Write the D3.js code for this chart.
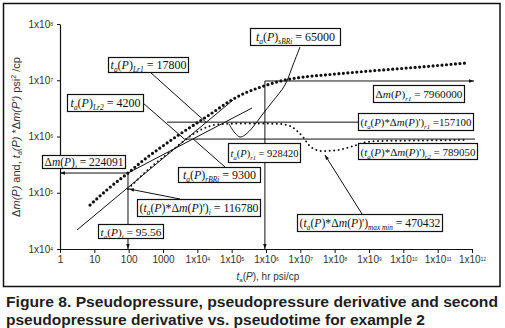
<!DOCTYPE html>
<html>
<head>
<meta charset="utf-8">
<script src="https://cdn.jsdelivr.net/npm/d3@7"></script>
<style>
  body { margin: 0; background: #fff; }
  svg { display: block; }
</style>
</head>
<body>
<div id="chart"></div>
<script>
// axis ticks
var xTickVals = [1, 10, 100, 1000, 1e4, 1e5, 1e6, 1e7, 1e8, 1e9, 1e10, 1e11, 1e12];
var yTickVals = [1e4, 1e5, 1e6, 1e7, 1e8];

// pseudopressure drop  (big dots)
var tDm = [7.5, 25, 95.56, 300, 820, 3130, 12000, 32700, 89400, 244000, 585000, 1.31e6, 3.57e6, 9.8e6, 7.3e7, 1.07e9, 3.06e10, 7.2e11];
var dm  = [60500, 116700, 224091, 398000, 625000, 1.107e6, 1.887e6, 2.84e6, 4.28e6, 5.93e6, 7.28e6, 8.58e6, 1.01e7, 1.12e7, 1.265e7, 1.46e7, 1.72e7, 2.03e7];

// pseudopressure derivative (small dots)
var tDer = [95.56, 418, 2240, 8550, 23400, 52300, 175000, 669000, 2.56e6, 5.0e6, 8.0e6, 1.2e7, 1.67e7, 2.5e7, 4.28e7, 1.02e8, 2.8e8, 7.65e8, 2.09e9, 3.06e10, 6.26e11];
var der  = [116780, 275400, 625000, 1.154e6, 1.537e6, 1.668e6, 1.70e6, 1.70e6, 1.668e6, 1.537e6, 1.253e6, 9.8e5, 7.36e5, 6.0e5, 5.52e5, 5.64e5, 6.5e5, 7.82e5, 8.32e5, 8.49e5, 8.66e5];

// straight lines
var tL1 = [3.13, 109400], vL1 = [21770, 4.45e6];
var tL2 = [95.56, 391000], vL2 = [224091, 3.21e6];

// characteristic points
var taI = 95.56, dmI = 224091, taR1 = 928420;
var dmR1Level = 9.7e6, derR1Level = 1.8e6, derR2Level = 9.0e5;
var taLr1 = 17800, taLr2 = 4200, taRBRi = 9300;
var tMaxMin = 5.2e7, derMaxMin = 470432;

// curved leader of t_a(P)sBRi
var tSB = [9.77e6, 6.11e6, 3.57e6, 1.6e6, 7.65e5, 4.18e5, 2.44e5, 1.75e5, 1.25e5, 83600];
var vSB = [3.9e7, 1.87e7, 8.24e6, 4.28e6, 2.41e6, 1.476e6, 1.064e6, 9.8e5, 1.154e6, 1.668e6];

var W = 505, H = 328;
var svg = d3.select("#chart").append("svg").attr("width", W).attr("height", H);

var defs = svg.append("defs");
defs.append("marker").attr("id", "arr")
    .attr("viewBox", "0 0 10 10").attr("refX", 10).attr("refY", 5)
    .attr("markerWidth", 5).attr("markerHeight", 5)
    .attr("markerUnits", "userSpaceOnUse").attr("orient", "auto")
    .append("path").attr("d", "M0,1.5 L10,5 L0,8.5 z").attr("fill", "#111");

// frame
svg.append("rect").attr("x", 3.5).attr("y", 3.5).attr("width", 496.5).attr("height", 283)
    .attr("fill", "none").attr("stroke", "#111").attr("stroke-width", 1.5);

var x = d3.scaleLog().domain([1, 1e12]).range([60, 472]);
var y = d3.scaleLog().domain([1e4, 1e8]).range([249, 24]);

var tickCol = "#3a3026";
function tickLabel(v) {
    var t = d3.select(this), e = Math.round(Math.log10(v));
    t.text(null);
    if (e < 4) { t.text(String(v)); return; }
    t.append("tspan").text("1x10");
    t.append("tspan").attr("dy", -2).style("font-size", "5px").text(e);
}

var gx = svg.append("g").attr("transform", "translate(0,249)")
    .call(d3.axisBottom(x).tickValues(xTickVals).tickSize(4).tickSizeOuter(0).tickPadding(3));
var gy = svg.append("g").attr("transform", "translate(60,0)")
    .call(d3.axisLeft(y).tickValues(yTickVals).tickSize(3).tickSizeOuter(0).tickPadding(4));
[gx, gy].forEach(function(g) {
    g.selectAll(".domain, .tick line").attr("stroke", "#111");
    g.selectAll(".tick text").attr("fill", tickCol)
        .style("font-family", "'Liberation Sans', Arial, sans-serif").style("font-size", "10px")
        .each(tickLabel);
});
gx.select(".domain").attr("stroke-width", 1.2);
gy.select(".domain").attr("stroke-width", 1.2);

// axis titles
var xl = svg.append("text").attr("x", 268).attr("y", 280).attr("text-anchor", "middle")
    .attr("fill", "#333").style("font-family", "'Liberation Sans', Arial, sans-serif").style("font-size", "10px");
xl.append("tspan").style("font-style", "italic").text("t");
xl.append("tspan").attr("dy", 2).style("font-size", "6px").text("a");
xl.append("tspan").attr("dy", -2).text("(");
xl.append("tspan").style("font-style", "italic").text("P");
xl.append("tspan").text("), hr psi/cp");

var yl = svg.append("text").attr("transform", "translate(20,137) rotate(-90)").attr("text-anchor", "middle")
    .attr("fill", "#333").style("font-family", "'Liberation Sans', Arial, sans-serif").style("font-size", "11px");
yl.append("tspan").text("Δ");
yl.append("tspan").style("font-style", "italic").text("m(P)");
yl.append("tspan").text(" and, ");
yl.append("tspan").style("font-style", "italic").text("t");
yl.append("tspan").attr("dy", 2).style("font-size", "7px").style("font-style", "italic").text("a");
yl.append("tspan").attr("dy", -2).style("font-style", "italic").text("(P)");
yl.append("tspan").text(" *Δ");
yl.append("tspan").style("font-style", "italic").text("m(P')");
yl.append("tspan").text("  psi");
yl.append("tspan").attr("dy", -4).style("font-size", "7px").text("2");
yl.append("tspan").attr("dy", 4).text(" /cp");

function seg(x1, y1, x2, y2, arrow) {
    var l = svg.append("line").attr("x1", x1).attr("y1", y1).attr("x2", x2).attr("y2", y2)
        .attr("stroke", "#111").attr("stroke-width", 1);
    if (arrow) l.attr("marker-end", "url(#arr)");
    return l;
}

// reference lines
seg(x(taI), y(dmI), 60, y(dmI), true);
seg(x(taI), y(dmI), x(taI), 249, true);
seg(x(taR1), y(dmR1Level), 474, y(dmR1Level), true);
seg(x(taR1), y(dmR1Level), x(taR1), 249, true);
seg(167, y(derR1Level), 358, y(derR1Level));
seg(x(taLr2), y(derR2Level), 475, y(derR2Level));

// straight lines
seg(x(tL1[0]), y(vL1[0]), x(tL1[1]), y(vL1[1]));
seg(x(tL2[0]), y(vL2[0]), x(tL2[1]), y(vL2[1]));

// curves
var line = d3.line().curve(d3.curveMonotoneX);
svg.append("path")
    .attr("d", line(tDer.map(function(t, i) { return [x(t), y(der[i])]; })))
    .attr("fill", "none").attr("stroke", "#111").attr("stroke-width", 2)
    .attr("stroke-linecap", "round").attr("stroke-dasharray", "0 4.5");
svg.append("path")
    .attr("d", line(tDm.map(function(t, i) { return [x(t), y(dm[i])]; })))
    .attr("fill", "none").attr("stroke", "#111").attr("stroke-width", 3.2)
    .attr("stroke-linecap", "round").attr("stroke-dasharray", "0 4.5");

// leaders
seg(150, 72, x(taLr1), y(derR1Level));
seg(143, 103, x(taLr2), y(derR2Level));
seg(225, 167, x(taRBRi) - 3, y(derR2Level));
seg(180, 199, x(taI) + 1, y(116780), true);
seg(362, 214, x(tMaxMin), y(derMaxMin), true);
svg.append("path")
    .attr("d", d3.line().curve(d3.curveCatmullRom)(tSB.map(function(t, i) { return [x(t), y(vSB[i])]; })))
    .attr("fill", "none").attr("stroke", "#111").attr("stroke-width", 1);

// label boxes
function box(bx, by, bw, bh, parts) {
    svg.append("rect").attr("x", bx + 0.5).attr("y", by + 0.5).attr("width", bw).attr("height", bh)
        .attr("fill", "#fff").attr("stroke", "#111").attr("stroke-width", 1.2);
    var fs = 12;
    var t = svg.append("text").attr("x", bx + bw / 2 + 0.5).attr("y", by + bh / 2 + 4.5)
        .attr("text-anchor", "middle").attr("fill", "#111")
        .style("font-family", "'Liberation Serif', 'Times New Roman', serif").style("font-size", fs + "px");
    var shift = 0;
    parts.forEach(function(p) {
        var s = t.append("tspan").text(p[0]);
        var sub = p[1].indexOf("s") >= 0;
        var want = sub ? 3 : 0;
        if (want !== shift) s.attr("dy", want - shift);
        shift = want;
        if (sub) s.style("font-size", "0.62em");
        if (p[1].indexOf("i") >= 0) s.style("font-style", "italic");
    });
    // shrink to fit the box
    var len = t.node().getComputedTextLength();
    if (len > bw - 4) t.style("font-size", (fs * (bw - 4) / len) + "px");
}
function taP(sub) { return [["t", "i"], ["a", "is"], ["(", ""], ["P", "i"], [")", ""], [sub, "is"]]; }
function deriv(sub, tail) {
    return [["(", ""], ["t", "i"], ["a", "is"], ["(", ""], ["P", "i"], [")*Δ", ""], ["m", "i"], ["(", ""],
            ["P", "i"], [")')", ""], [sub, "is"], [tail, ""]];
}

box(250, 28, 90, 17, taP("sBRi").concat([[" = 65000", ""]]));
box(108, 57, 80, 15, taP("Lr1").concat([[" = 17800", ""]]));
box(67, 94, 76, 17, taP("Lr2").concat([[" = 4200", ""]]));
box(373, 85, 91, 17, [["Δ", ""], ["m", "i"], ["(", ""], ["P", "i"], [")", ""], ["r1", "is"], [" = 7960000", ""]]);
box(358, 113, 115, 17, deriv("r1", " =157100"));
box(358, 143, 119, 16, deriv("r2", " = 789050"));
box(228, 143, 72, 19, taP("r1").concat([[" = 928420", ""]]));
box(42, 155, 83, 13, [["Δ", ""], ["m", "i"], ["(", ""], ["P", "i"], [")", ""], ["i", "is"], [" = 224091", ""]]);
box(178, 167, 82, 15, taP("rBRi").concat([[" = 9300", ""]]));
box(137, 199, 123, 17, deriv("i", " = 116780"));
box(98, 224, 65, 14, taP("i").concat([[" = 95.56", ""]]));
box(297, 214, 145, 17, deriv("max  min", " = 470432"));

// caption
var cap = svg.append("g").attr("fill", "#1e1e1e")
    .style("font-family", "'Liberation Sans', Arial, sans-serif").style("font-weight", "bold").style("font-size", "14px");
cap.append("text").attr("x", 6).attr("y", 307)
    .attr("textLength", 492).attr("lengthAdjust", "spacingAndGlyphs")
    .text("Figure 8. Pseudopressure, pseudopressure derivative and second");
cap.append("text").attr("x", 6).attr("y", 325)
    .attr("textLength", 419).attr("lengthAdjust", "spacingAndGlyphs")
    .text("pseudopressure derivative vs. pseudotime for example 2");
</script>
</body>
</html>
